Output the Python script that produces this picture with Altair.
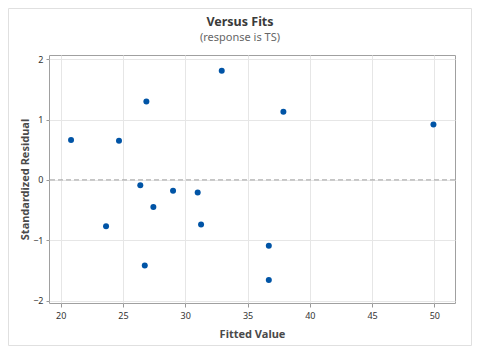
import altair as alt
import pandas as pd

fitted = [20.83, 24.68, 26.88, 32.93, 37.88, 49.93, 23.64, 26.39, 27.44, 29.02, 31.00, 31.27, 26.75, 36.71, 36.71]
resid = [0.66, 0.65, 1.30, 1.81, 1.13, 0.92, -0.77, -0.09, -0.45, -0.18, -0.21, -0.74, -1.42, -1.09, -1.66]

x_ticks = [20, 25, 30, 35, 40, 45, 50]
y_ticks = [-2, -1, 0, 1, 2]

df = pd.DataFrame({"fit": fitted, "res": resid})
zero = pd.DataFrame({"y": [0]})

FONT = "Noto Sans"

xscale = alt.Scale(domain=[19.06, 51.66], nice=False, zero=False)
yscale = alt.Scale(domain=[-2.04, 2.07], nice=False, zero=False)

points = alt.Chart(df).mark_circle(size=36, color="#0054a6", opacity=1).encode(
    x=alt.X("fit:Q", scale=xscale,
            axis=alt.Axis(title="Fitted Value", values=x_ticks, grid=True, gridColor="#e6e6e6",
                          tickSize=4, tickColor="#999", domain=False, labelFontSize=9,
                          labelColor="#333", titleFontSize=11, titleColor="#4a4a4a",
                          titleFontWeight="bold", titlePadding=8, labelPadding=4, format="d")),
    y=alt.Y("res:Q", scale=yscale,
            axis=alt.Axis(title="Standardized Residual", values=y_ticks, grid=True, gridColor="#e6e6e6",
                          tickSize=3, tickColor="#999", domain=False, labelFontSize=9,
                          labelColor="#333", titleFontSize=11, titleColor="#4a4a4a",
                          titleFontWeight="bold", titlePadding=2, labelPadding=3, format="d")),
)

ref = alt.Chart(zero).mark_rule(color="#a0a0a0", strokeDash=[5, 3], strokeWidth=1).encode(
    y=alt.Y("y:Q", scale=yscale)
)

border = alt.Chart(zero).mark_rect(fill=None, stroke="#e0e0e0", strokeWidth=1).encode(
    x=alt.value(-40.5), x2=alt.value(422.5), y=alt.value(-46.5), y2=alt.value(290.5)
)

chart = alt.layer(border, ref, points).properties(
    width=406, height=248,
    title=alt.TitleParams(text="Versus Fits", subtitle="(response is TS)", anchor="middle",
                          frame="bounds", fontSize=12.5, fontWeight="bold", color="#3a3a3a",
                          subtitleFontSize=11, subtitleColor="#666", subtitlePadding=4,
                          offset=-35, font=FONT, subtitleFont=FONT),
    autosize=alt.AutoSizeParams(type="none"),
    padding={"left": 41, "top": 47, "right": 17, "bottom": 44},
).configure_view(stroke="#a0a0a0", strokeWidth=1).configure_axis(
    labelFont=FONT, titleFont=FONT
)

chart.save("out.html", embed_options={"renderer": "svg", "actions": False})
